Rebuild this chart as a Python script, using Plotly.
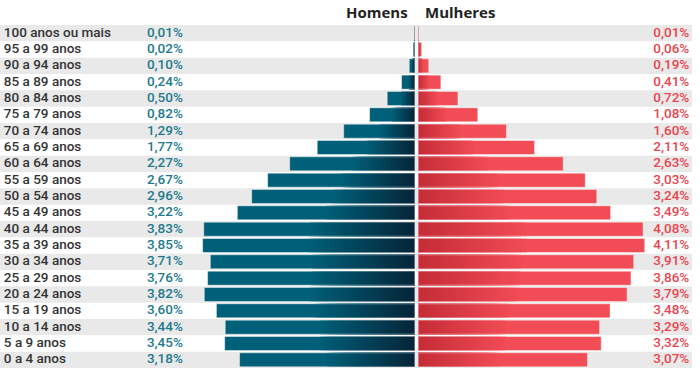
import plotly.graph_objects as go
import numpy as np

ages = ["100 anos ou mais", "95 a 99 anos", "90 a 94 anos", "85 a 89 anos", "80 a 84 anos",
        "75 a 79 anos", "70 a 74 anos", "65 a 69 anos", "60 a 64 anos", "55 a 59 anos",
        "50 a 54 anos", "45 a 49 anos", "40 a 44 anos", "35 a 39 anos", "30 a 34 anos",
        "25 a 29 anos", "20 a 24 anos", "15 a 19 anos", "10 a 14 anos", "5 a 9 anos", "0 a 4 anos"]
homens = [0.01, 0.02, 0.10, 0.24, 0.50, 0.82, 1.29, 1.77, 2.27, 2.67, 2.96, 3.22, 3.83, 3.85,
          3.71, 3.76, 3.82, 3.60, 3.44, 3.45, 3.18]
mulheres = [0.01, 0.06, 0.19, 0.41, 0.72, 1.08, 1.60, 2.11, 2.63, 3.03, 3.24, 3.49, 4.08, 4.11,
            3.91, 3.86, 3.79, 3.48, 3.29, 3.32, 3.07]

FONT = "Roboto"
FS = 13.5
GAP = 0.032
N = 24
BARW = 0.86

h = np.array(homens)
m = np.array(mulheres)
ypos = list(range(len(ages)))


def mix(c1, c2, t):
    return "rgb(%d,%d,%d)" % tuple(round(a + (b - a) * t) for a, b in zip(c1, c2))


def pct(v):
    return ("%.2f%%" % v).replace(".", ",")


TEAL = (0, 96, 121)
TEAL_D = (6, 38, 58)
RED = (242, 76, 86)
RED_D = (198, 45, 55)

fig = go.Figure()

# men: full bar, then progressively darker overlays toward the centre
fig.add_trace(go.Bar(y=ypos, x=-h, base=-GAP, orientation="h", width=BARW,
                     marker=dict(color=mix(TEAL, TEAL, 0), line=dict(width=0)),
                     hoverinfo="skip", showlegend=False))
for k in range(N):
    frac = 0.5 * (1 - k / N)
    fig.add_trace(go.Bar(y=ypos, x=-h * frac, base=-GAP, orientation="h", width=BARW,
                         marker=dict(color=mix(TEAL, TEAL_D, (k + 1) / N), line=dict(width=0)),
                         hoverinfo="skip", showlegend=False))
# women
fig.add_trace(go.Bar(y=ypos, x=m, base=GAP, orientation="h", width=BARW,
                     marker=dict(color=mix(RED, RED, 0), line=dict(width=0)),
                     hoverinfo="skip", showlegend=False))
for k in range(N):
    frac = 0.48 * (1 - k / N)
    fig.add_trace(go.Bar(y=ypos, x=m * frac, base=GAP, orientation="h", width=BARW,
                         marker=dict(color=mix(RED, RED_D, (k + 1) / N), line=dict(width=0)),
                         hoverinfo="skip", showlegend=False))
# light borders
for vals, sign in ((h, -1), (m, 1)):
    fig.add_trace(go.Bar(y=ypos, x=sign * vals, base=sign * GAP, orientation="h", width=BARW,
                         marker=dict(color="rgba(0,0,0,0)",
                                     line=dict(width=1, color="rgba(255,255,255,0.45)")),
                         hoverinfo="skip", showlegend=False))

# text columns
fig.add_trace(go.Scatter(x=[-7.49] * len(ages), y=ypos, text=ages, mode="text",
                         textposition="middle right", hoverinfo="skip", showlegend=False,
                         textfont=dict(family=FONT, size=FS, color="#333333", weight=500)))
fig.add_trace(go.Scatter(x=[-4.24] * len(ages), y=ypos, text=[pct(v) for v in homens], mode="text",
                         textposition="middle left", hoverinfo="skip", showlegend=False,
                         textfont=dict(family=FONT, size=FS, color="#237a8e", weight=500)))
fig.add_trace(go.Scatter(x=[4.95] * len(ages), y=ypos, text=[pct(v) for v in mulheres], mode="text",
                         textposition="middle left", hoverinfo="skip", showlegend=False,
                         textfont=dict(family=FONT, size=FS, color="#e8454f", weight=500)))

shapes = []
for i in range(0, len(ages), 2):
    shapes.append(dict(type="rect", xref="paper", yref="y", x0=0, x1=1,
                       y0=i - 0.5, y1=i + 0.5, fillcolor="#e9e9e9", line=dict(width=0),
                       layer="below"))

ann = [
    dict(x=0.0, xref="x", y=1.0, yref="paper", text="<b>Homens</b>", showarrow=False,
         xanchor="right", yanchor="bottom", xshift=-7, yshift=1,
         font=dict(family="Open Sans", size=15, color="#222222")),
    dict(x=0.0, xref="x", y=1.0, yref="paper", text="<b>Mulheres</b>", showarrow=False,
         xanchor="left", yanchor="bottom", xshift=6, yshift=1,
         font=dict(family="Open Sans", size=15, color="#222222")),
]

fig.update_layout(
    width=700, height=372,
    margin=dict(l=0, r=8, t=25, b=4),
    paper_bgcolor="white", plot_bgcolor="white",
    barmode="overlay",
    shapes=shapes, annotations=ann,
    xaxis=dict(range=[-7.56, 5.0], visible=False, fixedrange=True),
    yaxis=dict(range=[len(ages) - 0.5, -0.5], visible=False, fixedrange=True),
    showlegend=False,
)

fig.write_html("out.html", config={"displayModeBar": False},
               post_script="document.body.style.margin='0';document.body.style.overflow='hidden';")
